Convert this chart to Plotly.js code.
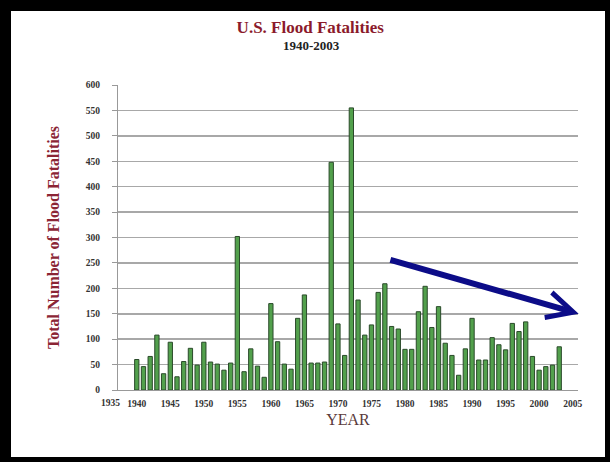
<!DOCTYPE html>
<html>
<head>
<meta charset="utf-8">
<script src="https://cdn.plot.ly/plotly-3.0.1.min.js"></script>
<style>
  html, body { margin: 0; padding: 0; background: #ffffff; }
  #chart { position: absolute; left: 0; top: 0; width: 612px; height: 463px; }
  #frame { position: absolute; left: 0; top: 0; width: 594px; height: 446px;
           border-top: 11px solid #000; border-left: 11px solid #000;
           border-right: 5px solid #000; border-bottom: 5px solid #000;
           pointer-events: none; }
</style>
</head>
<body>
<div id="chart"></div>
<div id="frame"></div>
<script>
// Data
var years = [1940,1941,1942,1943,1944,1945,1946,1947,1948,1949,
             1950,1951,1952,1953,1954,1955,1956,1957,1958,1959,
             1960,1961,1962,1963,1964,1965,1966,1967,1968,1969,
             1970,1971,1972,1973,1974,1975,1976,1977,1978,1979,
             1980,1981,1982,1983,1984,1985,1986,1987,1988,1989,
             1990,1991,1992,1993,1994,1995,1996,1997,1998,1999,
             2000,2001,2002,2003];
var fatalities = [60,46,66,108,32,94,26,56,82,49,
                  94,55,51,39,53,302,36,81,47,25,
                  170,95,51,41,141,187,53,53,55,448,
                  130,68,555,177,108,128,192,209,125,120,
                  80,80,154,204,123,164,92,68,29,81,
                  141,59,59,103,89,79,131,115,134,66,
                  39,46,49,85];
var xTickVals = [1940,1945,1950,1955,1960,1965,1970,1975,1980,1985,1990,1995,2000,2005];
var xTickText = ["1940","1945","1950","1955","1960","1965","1970","1975","1980","1985","1990","1995","2000","2005"];
var yTickVals = [0,50,100,150,200,250,300,350,400,450,500,550,600];

var serif = "Liberation Serif, Times New Roman, serif";

var trace = {
  type: "bar",
  x: years,
  y: fatalities,
  marker: { color: "#52a04c", line: { color: "#2a4a2a", width: 1 } },
  hoverinfo: "x+y"
};

var layout = {
  width: 612, height: 463,
  margin: { l: 118, r: 34, t: 85, b: 73 },
  paper_bgcolor: "#ffffff",
  plot_bgcolor: "#ffffff",
  showlegend: false,
  bargap: 0.36,
  title: {
    text: "<b>U.S. Flood Fatalities</b>",
    font: { family: serif, size: 17, color: "#8b1a2b" },
    x: 0.507, xref: "container", xanchor: "center",
    y: 1 - 27/463, yref: "container", yanchor: "middle"
  },
  xaxis: {
    range: [1937.2, 2005.8],
    tickvals: xTickVals,
    ticktext: xTickText,
    tickfont: { family: serif, size: 9.5, color: "#333333", weight: "bold" },
    showgrid: false,
    zeroline: false,
    showline: true, linecolor: "#999999", linewidth: 1,
    ticks: "",
    ticklabelstandoff: 5,
    title: { text: "YEAR", font: { family: serif, size: 16, color: "#5a3a3a" }, standoff: 5 }
  },
  yaxis: {
    range: [0, 600],
    tickvals: yTickVals,
    tickfont: { family: serif, size: 9.5, color: "#333333", weight: "bold" },
    showgrid: true, gridcolor: "#a8a8a8", gridwidth: 1.5,
    zeroline: false,
    showline: true, linecolor: "#999999", linewidth: 1,
    ticks: "outside", ticklen: 5, tickcolor: "#999999",
    ticklabelstandoff: 10,
    title: { text: "<b>Total Number of Flood Fatalities</b>", font: { family: serif, size: 16, color: "#8b2535" }, standoff: 22 }
  },
  annotations: [
    { text: "<b>1940-2003</b>", xref: "paper", yref: "paper", x: (311 - 118) / 460, y: (390 - 45) / 305,
      xanchor: "center", yanchor: "middle", showarrow: false,
      font: { family: serif, size: 13, color: "#222222" } },
    { text: "<b>1935</b>", xref: "paper", yref: "paper", x: -0.017, y: -0.041,
      xanchor: "center", yanchor: "middle", showarrow: false,
      font: { family: serif, size: 9.5, color: "#333333" } },
    { x: 2005.9, y: 150, xref: "x", yref: "y",
      ax: 1977.6, ay: 257, axref: "x", ayref: "y",
      text: "", showarrow: true, arrowhead: 5, arrowsize: 0.85,
      arrowwidth: 6, arrowcolor: "#0c0c88", standoff: 0 }
  ]
};

Plotly.newPlot("chart", [trace], layout, { displayModeBar: false, staticPlot: true });
</script>
</body>
</html>
